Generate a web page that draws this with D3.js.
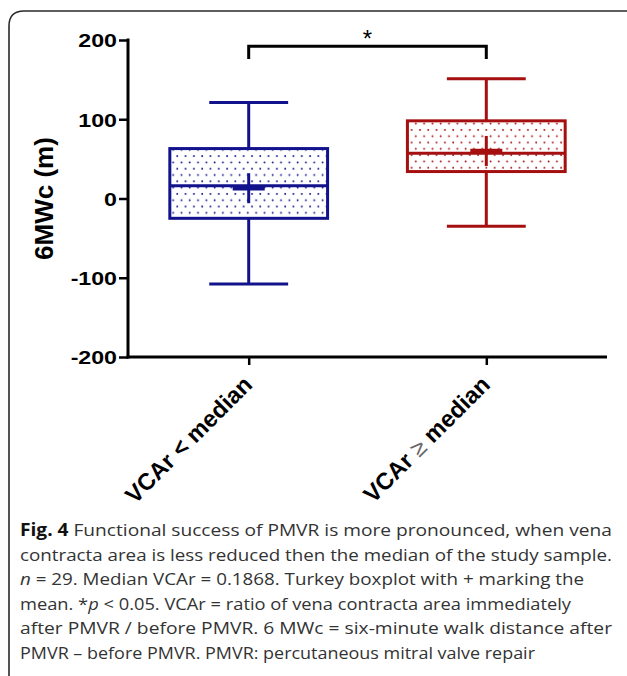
<!DOCTYPE html>
<html>
<head>
<meta charset="utf-8">
<script src="https://cdn.jsdelivr.net/npm/d3@7"></script>
<style>
  body { margin: 0; background: #fff; }
  svg { display: block; }
  .arial { font-family: 'Liberation Sans', Arial, sans-serif; }
  .caption { font-family: 'Open Sans', sans-serif; }
</style>
</head>
<body>
<div id="chart"></div>
<script>
const svgAttr = { width: 627, height: 676 };

// data
const groups = ["VCAr < median", "VCAr \u2265 median"];
const whiskerLow = [-108, -35];
const q1 = [-25, 34];
const median = [16, 57];
const q3 = [63, 98];
const whiskerHigh = [121, 151];
const mean = [13, 60];
const yTicks = [-200, -100, 0, 100, 200];
const bracket = { from: 0, to: 1, top: 192, leg: 176, label: "*" };

const captionLines = [
  [["Fig. 4", "bold"], [" Functional success of PMVR is more pronounced, when vena", ""]],
  [["contracta area is less reduced then the median of the study sample.", ""]],
  [["n", "italic"], [" = 29. Median VCAr = 0.1868. Turkey boxplot with + marking the", ""]],
  [["mean. *", ""], ["p", "italic"], [" < 0.05. VCAr = ratio of vena contracta area immediately", ""]],
  [["after PMVR / before PMVR. 6 MWc = six-minute walk distance after", ""]],
  [["PMVR \u2013 before PMVR. PMVR: percutaneous mitral valve repair", ""]]
];
const captionWidths = [592, 592, 564, 551, 592, 515];

const colors = ["#12128c", "#a50f0f"];

const plot = { left: 128, right: 607, top: 40, bottom: 357 };

const svg = d3.select("#chart")
  .append("svg")
  .attr("width", svgAttr.width)
  .attr("height", svgAttr.height);

// frame
svg.append("path")
  .attr("d", "M 9 690 L 9 26 Q 9 11 24 11 L 640 11")
  .attr("fill", "none")
  .attr("stroke", "#2a2a2a")
  .attr("stroke-width", 1.6);

// dotted fill patterns
const defs = svg.append("defs");
colors.forEach((c, i) => {
  const p = defs.append("pattern")
    .attr("id", "dots" + i)
    .attr("patternUnits", "userSpaceOnUse")
    .attr("width", 8.3)
    .attr("height", 12.6)
    .attr("x", i ? 3 : 1)
    .attr("y", i ? 1 : 2);
  p.append("circle").attr("cx", 2).attr("cy", 3).attr("r", 0.95).attr("fill", c);
  p.append("circle").attr("cx", 6.15).attr("cy", 9.3).attr("r", 0.95).attr("fill", c);
});

const x = d3.scalePoint()
  .domain(groups)
  .range([plot.left, plot.right])
  .padding(0.508);

const y = d3.scaleLinear()
  .domain([-200, 200])
  .range([plot.bottom, plot.top]);

const step = x.step();
const boxW = step * 0.664;
const capW = boxW / 2;

// y axis
const yAxis = svg.append("g")
  .attr("transform", `translate(${plot.left},0)`)
  .call(d3.axisLeft(y).tickValues(yTicks).tickSize(9).tickSizeOuter(0).tickFormat(d => String(d)));
yAxis.attr("font-family", null).attr("font-size", null);
yAxis.select(".domain").attr("stroke-width", 3).attr("d", `M0,${plot.top - 1.5}V${plot.bottom + 1.5}`);
yAxis.selectAll(".tick line").attr("stroke-width", 2.5);
yAxis.selectAll(".tick text")
  .attr("class", "arial")
  .attr("font-weight", "bold")
  .attr("font-size", 19)
  .attr("fill", "#000")
  .attr("dy", "0.36em")
  .attr("transform", "scale(1.22,1)")
  .attr("x", -11 / 1.22);

// x axis
const xAxis = svg.append("g")
  .attr("transform", `translate(0,${plot.bottom})`)
  .call(d3.axisBottom(x).tickSize(8).tickSizeOuter(0).tickFormat(""));
xAxis.select(".domain").attr("stroke-width", 3).attr("d", `M${plot.left - 1.5},0H${plot.right}`);
xAxis.selectAll(".tick line").attr("stroke-width", 2.5);

const xLabels = svg.append("g")
  .selectAll("text")
  .data(groups)
  .join("text")
  .attr("class", "arial")
  .attr("transform", d => `translate(${x(d) + 5},${plot.bottom + 29}) rotate(-45)`)
  .attr("text-anchor", "end")
  .attr("font-weight", "bold")
  .attr("font-size", 23.5)
  .attr("fill", "#000");
xLabels.each(function(d) {
  const parts = d.split(/(\u2265)/);
  parts.forEach(s => {
    const ts = d3.select(this).append("tspan").text(s);
    if (s === "\u2265") ts.attr("font-weight", "normal").attr("fill", "#666");
  });
});

// y title
svg.append("text")
  .attr("class", "arial")
  .attr("transform", `translate(53,${y(0)}) rotate(-90)`)
  .attr("text-anchor", "middle")
  .attr("font-weight", "bold")
  .attr("font-size", 26)
  .attr("fill", "#000")
  .text("6MWc (m)");

// boxes
const boxes = svg.append("g");
groups.forEach((g, i) => {
  const cx = x(g);
  const c = colors[i];
  const grp = boxes.append("g").attr("stroke", c).attr("fill", "none").attr("stroke-width", 3);
  // whiskers
  grp.append("line").attr("x1", cx).attr("x2", cx).attr("y1", y(whiskerHigh[i])).attr("y2", y(q3[i]));
  grp.append("line").attr("x1", cx).attr("x2", cx).attr("y1", y(q1[i])).attr("y2", y(whiskerLow[i]));
  grp.append("line").attr("x1", cx - capW / 2).attr("x2", cx + capW / 2).attr("y1", y(whiskerHigh[i])).attr("y2", y(whiskerHigh[i]));
  grp.append("line").attr("x1", cx - capW / 2).attr("x2", cx + capW / 2).attr("y1", y(whiskerLow[i])).attr("y2", y(whiskerLow[i]));
  // box
  grp.append("rect")
    .attr("x", cx - boxW / 2)
    .attr("y", y(q3[i]))
    .attr("width", boxW)
    .attr("height", y(q1[i]) - y(q3[i]))
    .attr("fill", `url(#dots${i})`);
  grp.append("line").attr("x1", cx - boxW / 2).attr("x2", cx + boxW / 2).attr("y1", y(median[i])).attr("y2", y(median[i]));
  // mean +
  grp.append("line").attr("x1", cx - 16).attr("x2", cx + 16).attr("y1", y(mean[i])).attr("y2", y(mean[i])).attr("stroke-width", 4.5);
  grp.append("line").attr("x1", cx).attr("x2", cx).attr("y1", y(mean[i]) - 15).attr("y2", y(mean[i]) + 15).attr("stroke-width", 3);
});

// significance bracket
const bx1 = x(groups[bracket.from]), bx2 = x(groups[bracket.to]);
svg.append("path")
  .attr("d", `M${bx1},${y(bracket.leg)}V${y(bracket.top)}H${bx2}V${y(bracket.leg)}`)
  .attr("fill", "none")
  .attr("stroke", "#000")
  .attr("stroke-width", 3);
svg.append("text")
  .attr("class", "arial")
  .attr("x", (bx1 + bx2) / 2)
  .attr("y", y(bracket.top) + 1)
  .attr("text-anchor", "middle")
  .attr("font-size", 24)
  .attr("fill", "#000")
  .text(bracket.label);

// caption
const cap = svg.append("g")
  .attr("class", "caption")
  .attr("font-size", 17)
  .attr("fill", "#333");
captionLines.forEach((line, i) => {
  const t = cap.append("text")
    .attr("x", 20)
    .attr("y", 536 + i * 24.6)
    .attr("textLength", captionWidths[i])
    .attr("lengthAdjust", "spacingAndGlyphs");
  line.forEach(([s, style]) => {
    const ts = t.append("tspan").text(s);
    if (style === "bold") ts.attr("font-weight", "bold").attr("fill", "#111");
    if (style === "italic") ts.attr("font-style", "italic");
  });
});
</script>
</body>
</html>
